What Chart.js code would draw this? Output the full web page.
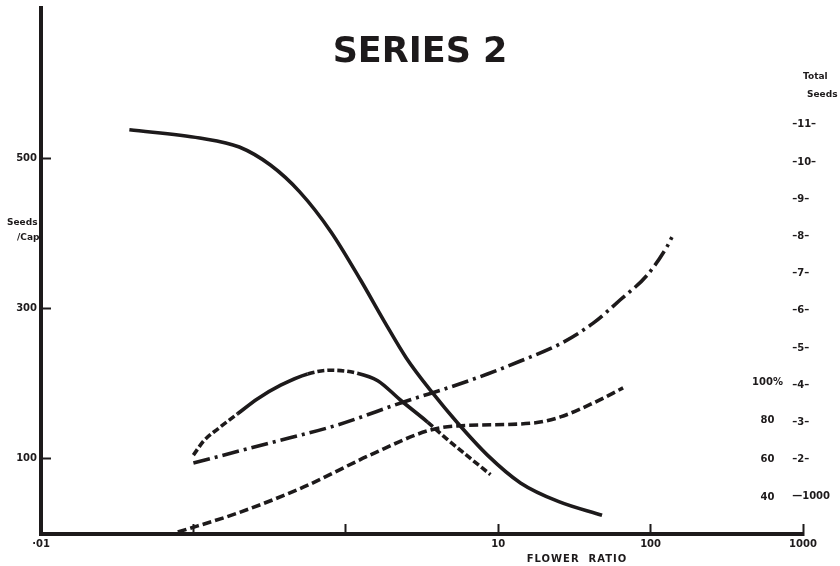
<!DOCTYPE html>
<html>
<head>
<meta charset="utf-8">
<title>Series 2</title>
<script src="https://cdn.jsdelivr.net/npm/chart.js@4/dist/chart.umd.min.js"></script>
<style>
  html, body { margin: 0; padding: 0; background: #ffffff; }
  #wrap { width: 840px; height: 566px; }
</style>
</head>
<body>
<div id="wrap"><canvas id="chart" width="840" height="566"></canvas></div>
<script>
// ---- axis ticks ----
const xTickValues = [0.01, 0.1, 1, 10, 100, 1000];
const xTickLabels = ['·01', '', '', '10', '100', '1000'];
const seedsTickValues = [100, 300, 500];
const totalTickValues = [1, 2, 3, 4, 5, 6, 7, 8, 9, 10, 11];
const totalTickLabels = ['—1000', '–2–', '–3–', '–4–', '–5–', '–6–', '–7–', '–8–', '–9–', '–10–', '–11–'];
const pctTickValues = [40, 60, 80, 100];
const pctTickLabels = ['40', '60', '80', '100%'];

// ---- series (x = flower ratio) ----
// seeds per capsule, solid curve
const seedsRatio  = [0.038, 0.11, 0.2, 0.32, 0.5, 0.8, 1.25, 1.8, 2.5, 3.7, 5.4, 8.5, 14, 25, 48];
const seedsPerCap = [538, 527, 515, 491, 455, 402, 338, 282, 234, 188, 148, 105, 68, 43, 25];

// broken curve (seeds per capsule scale)
const brokenRatio  = [0.1, 0.117, 0.145, 0.195, 0.264, 0.374, 0.562, 0.795, 1.19, 1.62, 2.29, 3.44, 4.51, 6.1, 8.9];
const brokenValues = [105, 124, 140, 160, 180, 198, 213, 218, 214, 204, 178, 149, 128, 106, 79];
// which stretches of the broken curve are dashed (by starting point)
const brokenDashedFrom = [true, true, true, false, false, false, true, true, false, false, false, true, true, true];

// total seeds, thousands (dash-dot curve)
const totalRatio  = [0.1, 0.32, 0.88, 2.4, 5.1, 8.5, 14, 26, 42, 63, 95, 128, 138];
const totalSeeds  = [1.91, 2.45, 2.93, 3.55, 3.98, 4.3, 4.65, 5.13, 5.67, 6.29, 6.96, 7.72, 7.98];

// percentage (dashed curve)
const pctRatio  = [0.079, 0.195, 0.53, 1.45, 3.6, 5.4, 17, 25.6, 42, 66];
const pctValues = [22, 31.9, 45.5, 62.2, 75.2, 77.3, 78.8, 82, 89.2, 97.1];

const INK = '#1d1a1b';
const FONT = 'DejaVu Sans';

const toPoints = (xs, ys) => xs.map((x, i) => ({ x, y: ys[i] }));

const lineBase = {
  pointRadius: 0,
  borderColor: INK,
  backgroundColor: INK,
  fill: false,
  cubicInterpolationMode: 'monotone',
  borderCapStyle: 'butt',
  borderWidth: 3.6
};

// vertical scales: fixed width, no extra room reserved for end labels
const fixWidth = w => s => { s.width = w; s.paddingTop = 0; s.paddingBottom = 0; };

// free-standing captions drawn under the axes
const captions = {
  id: 'captions',
  beforeDraw(chart) {
    const { ctx, chartArea: a } = chart;
    ctx.save();
    ctx.fillStyle = INK;
    ctx.textBaseline = 'middle';
    ctx.textAlign = 'left';
    ctx.font = `bold 9px "${FONT}"`;
    ctx.fillText('Seeds', a.left - 34, 223);
    ctx.fillText('/Cap', a.left - 24, 238);
    ctx.fillText('Total', a.right, 77);
    ctx.fillText('Seeds', a.right + 4, 95);
    ctx.font = `bold 10px "${FONT}"`;
    ctx.textAlign = 'center';
    if ('letterSpacing' in ctx) ctx.letterSpacing = '1px';
    ctx.fillText('FLOWER  RATIO', 577, 559);
    ctx.restore();
  }
};

const tickFont = { family: FONT, size: 10, weight: 'bold' };

new Chart(document.getElementById('chart'), {
  type: 'line',
  data: {
    datasets: [
      { ...lineBase, data: toPoints(seedsRatio, seedsPerCap), yAxisID: 'y' },
      {
        ...lineBase, data: toPoints(brokenRatio, brokenValues), yAxisID: 'y',
        segment: { borderDash: c => brokenDashedFrom[c.p0DataIndex] ? [7, 3] : undefined }
      },
      { ...lineBase, data: toPoints(totalRatio, totalSeeds), yAxisID: 'yTotal', borderDash: [17, 5, 3, 5] },
      { ...lineBase, data: toPoints(pctRatio, pctValues), yAxisID: 'yPct', borderDash: [9, 4] }
    ]
  },
  options: {
    responsive: false,
    animation: false,
    events: [],
    layout: { padding: { top: 8, left: 0, right: 0, bottom: 0 } },
    plugins: {
      legend: { display: false },
      tooltip: { enabled: false },
      title: {
        display: true,
        text: 'SERIES 2',
        color: INK,
        font: { family: FONT, size: 35, weight: 'bold', lineHeight: 1.2 },
        padding: { top: 24, bottom: -66 }
      }
    },
    scales: {
      x: {
        type: 'logarithmic',
        min: 0.01,
        max: 1000,
        afterBuildTicks: s => { s.ticks = xTickValues.map(v => ({ value: v })); },
        afterFit: s => { s.height = 32; },
        border: { display: true, color: INK, width: 4 },
        grid: { display: true, drawOnChartArea: false, drawTicks: true, tickLength: -10, tickColor: INK, tickWidth: 2 },
        ticks: {
          autoSkip: false, maxRotation: 0, padding: 14, color: INK, font: tickFont,
          callback: (v, i) => xTickLabels[i]
        }
      },
      y: {
        type: 'linear',
        position: 'left',
        min: 0,
        max: 700,
        afterBuildTicks: s => { s.ticks = seedsTickValues.map(v => ({ value: v })); },
        afterFit: fixWidth(41),
        border: { display: true, color: INK, width: 4 },
        grid: { display: true, drawOnChartArea: false, drawTicks: true, tickLength: -10, tickColor: INK, tickWidth: 2 },
        ticks: { padding: 14, color: INK, font: tickFont }
      },
      yPct: {
        type: 'linear',
        position: 'right',
        weight: 0,
        min: 21,
        max: 295,
        afterBuildTicks: s => { s.ticks = pctTickValues.map(v => ({ value: v })); },
        afterFit: fixWidth(0),
        border: { display: false },
        grid: { display: false, drawTicks: false },
        ticks: {
          mirror: true, crossAlign: 'center', padding: -20, color: INK, font: tickFont,
          callback: (v, i) => pctTickLabels[i]
        }
      },
      yTotal: {
        type: 'linear',
        position: 'right',
        weight: 1,
        min: 0,
        max: 14.14,
        afterBuildTicks: s => { s.ticks = totalTickValues.map(v => ({ value: v })); },
        afterFit: fixWidth(37),
        border: { display: false },
        grid: { display: false, drawTicks: false },
        ticks: {
          mirror: true, crossAlign: 'far', padding: 27, color: INK, font: tickFont,
          callback: (v, i) => totalTickLabels[i]
        }
      }
    }
  },
  plugins: [captions]
});
</script>
</body>
</html>
